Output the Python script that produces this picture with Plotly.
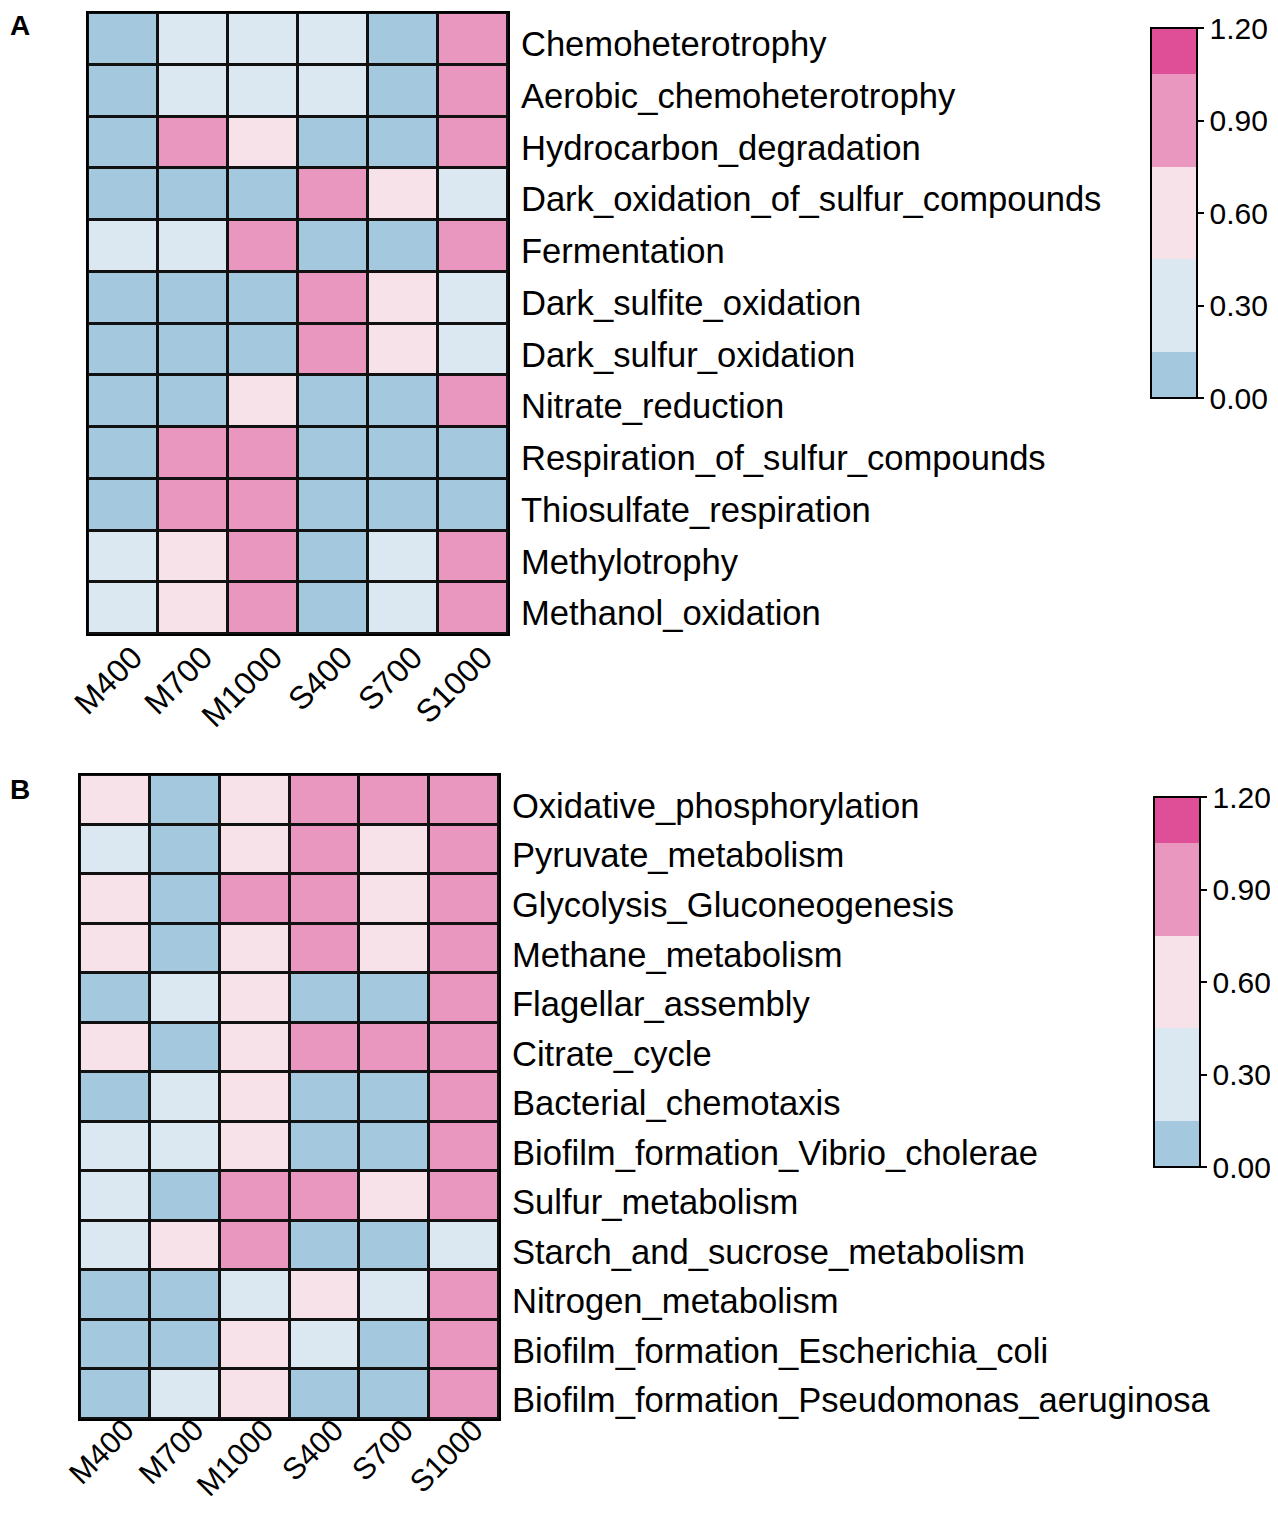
import plotly.graph_objects as go

# page body adds an 8px offset on every side; work in reference pixels and subtract it
OFF = 8
W, H = 1278 - 2 * OFF, 1514 - 2 * OFF

samples = ["M400", "M700", "M1000", "S400", "S700", "S1000"]

rows_a = ["Chemoheterotrophy", "Aerobic_chemoheterotrophy", "Hydrocarbon_degradation",
          "Dark_oxidation_of_sulfur_compounds", "Fermentation", "Dark_sulfite_oxidation",
          "Dark_sulfur_oxidation", "Nitrate_reduction", "Respiration_of_sulfur_compounds",
          "Thiosulfate_respiration", "Methylotrophy", "Methanol_oxidation"]
vals_a = [
    [0.05, 0.30, 0.30, 0.30, 0.05, 0.90],
    [0.05, 0.30, 0.30, 0.30, 0.05, 0.90],
    [0.05, 0.90, 0.60, 0.05, 0.05, 0.90],
    [0.05, 0.05, 0.05, 0.90, 0.60, 0.30],
    [0.30, 0.30, 0.90, 0.05, 0.05, 0.90],
    [0.05, 0.05, 0.05, 0.90, 0.60, 0.30],
    [0.05, 0.05, 0.05, 0.90, 0.60, 0.30],
    [0.05, 0.05, 0.60, 0.05, 0.05, 0.90],
    [0.05, 0.90, 0.90, 0.05, 0.05, 0.05],
    [0.05, 0.90, 0.90, 0.05, 0.05, 0.05],
    [0.30, 0.60, 0.90, 0.05, 0.30, 0.90],
    [0.30, 0.60, 0.90, 0.05, 0.30, 0.90],
]

rows_b = ["Oxidative_phosphorylation", "Pyruvate_metabolism", "Glycolysis_Gluconeogenesis",
          "Methane_metabolism", "Flagellar_assembly", "Citrate_cycle", "Bacterial_chemotaxis",
          "Biofilm_formation_Vibrio_cholerae", "Sulfur_metabolism", "Starch_and_sucrose_metabolism",
          "Nitrogen_metabolism", "Biofilm_formation_Escherichia_coli",
          "Biofilm_formation_Pseudomonas_aeruginosa"]
vals_b = [
    [0.60, 0.05, 0.60, 0.90, 0.90, 0.90],
    [0.30, 0.05, 0.60, 0.90, 0.60, 0.90],
    [0.60, 0.05, 0.90, 0.90, 0.60, 0.90],
    [0.60, 0.05, 0.60, 0.90, 0.60, 0.90],
    [0.05, 0.30, 0.60, 0.05, 0.05, 0.90],
    [0.60, 0.05, 0.60, 0.90, 0.90, 0.90],
    [0.05, 0.30, 0.60, 0.05, 0.05, 0.90],
    [0.30, 0.30, 0.60, 0.05, 0.05, 0.90],
    [0.30, 0.05, 0.90, 0.90, 0.60, 0.90],
    [0.30, 0.60, 0.90, 0.05, 0.05, 0.30],
    [0.05, 0.05, 0.30, 0.60, 0.30, 0.90],
    [0.05, 0.05, 0.60, 0.30, 0.05, 0.90],
    [0.05, 0.30, 0.60, 0.05, 0.05, 0.90],
]

cbar_ticks = [0.0, 0.3, 0.6, 0.9, 1.2]
bin_colors = ["#a4c8dd", "#dbe8f1", "#f7e2ea", "#e997be", "#de4f97"]
bounds = [0.0, 0.125, 0.375, 0.625, 0.875, 1.0]
colorscale = []
for i, c in enumerate(bin_colors):
    colorscale.append([bounds[i], c])
    colorscale.append([bounds[i + 1], c])

FONT = "Liberation Sans, Arial, sans-serif"


def px_x(p):
    return (p - OFF) / W


def px_y(p):
    return 1 - (p - OFF) / H


def cbar(top, bottom, left):
    return dict(
        thickness=46, thicknessmode="pixels",
        len=bottom - top, lenmode="pixels",
        x=px_x(left), xanchor="left",
        y=px_y(top), yanchor="top",
        outlinewidth=2, outlinecolor="black",
        tickvals=cbar_ticks, tickformat=".2f",
        ticks="outside", ticklen=6, tickwidth=2, tickcolor="black",
        tickfont=dict(family=FONT, size=30, color="black"),
        xpad=0, ypad=0,
    )


fig = go.Figure()
fig.add_trace(go.Heatmap(
    z=vals_a, x=samples, y=rows_a, xaxis="x", yaxis="y",
    colorscale=colorscale, zmin=0, zmax=1.2, xgap=3, ygap=3,
    colorbar=cbar(28, 398, 1151),
))
fig.add_trace(go.Heatmap(
    z=vals_b, x=samples, y=rows_b, xaxis="x2", yaxis="y2",
    colorscale=colorscale, zmin=0, zmax=1.2, xgap=3, ygap=3,
    colorbar=cbar(797, 1167, 1154),
))

axis_common = dict(showgrid=False, zeroline=False, showline=True, mirror=True,
                   linecolor="black", linewidth=2, automargin=False)
xfont = dict(family=FONT, size=32, color="black")
xfont_b = dict(family=FONT, size=30.5, color="black")
yfont = dict(family=FONT, size=34.6, color="black")

fig.update_layout(
    width=W, height=H,
    margin=dict(l=0, r=0, t=0, b=0, pad=0, autoexpand=False),
    paper_bgcolor="white", plot_bgcolor="#111111",
    font=dict(family=FONT, color="black"),
    xaxis=dict(domain=[px_x(88), px_x(508)], anchor="y", tickangle=-45, ticks="",
               tickfont=xfont, ticklabelshift=10, ticklabelstandoff=-10, **axis_common),
    yaxis=dict(domain=[px_y(634), px_y(13)], anchor="x", side="right",
               autorange="reversed", ticks="", ticklabelstandoff=4, ticklabelshift=-5,
               tickfont=yfont, **axis_common),
    xaxis2=dict(domain=[px_x(80), px_x(499)], anchor="y2", tickangle=-45, ticks="",
                tickfont=xfont_b, ticklabelshift=10, ticklabelstandoff=-21, **axis_common),
    yaxis2=dict(domain=[px_y(1419), px_y(775)], anchor="x2", side="right",
                autorange="reversed", ticks="", ticklabelstandoff=4, ticklabelshift=-6,
                tickfont=yfont, **axis_common),
    annotations=[
        dict(text="<b>A</b>", x=0, y=px_y(8), xref="paper", yref="paper",
             xanchor="left", yanchor="top", showarrow=False,
             font=dict(family=FONT, size=28, color="black")),
        dict(text="<b>B</b>", x=0, y=px_y(772), xref="paper", yref="paper",
             xanchor="left", yanchor="top", showarrow=False,
             font=dict(family=FONT, size=28, color="black")),
    ],
)

fig.write_html("out.html")
